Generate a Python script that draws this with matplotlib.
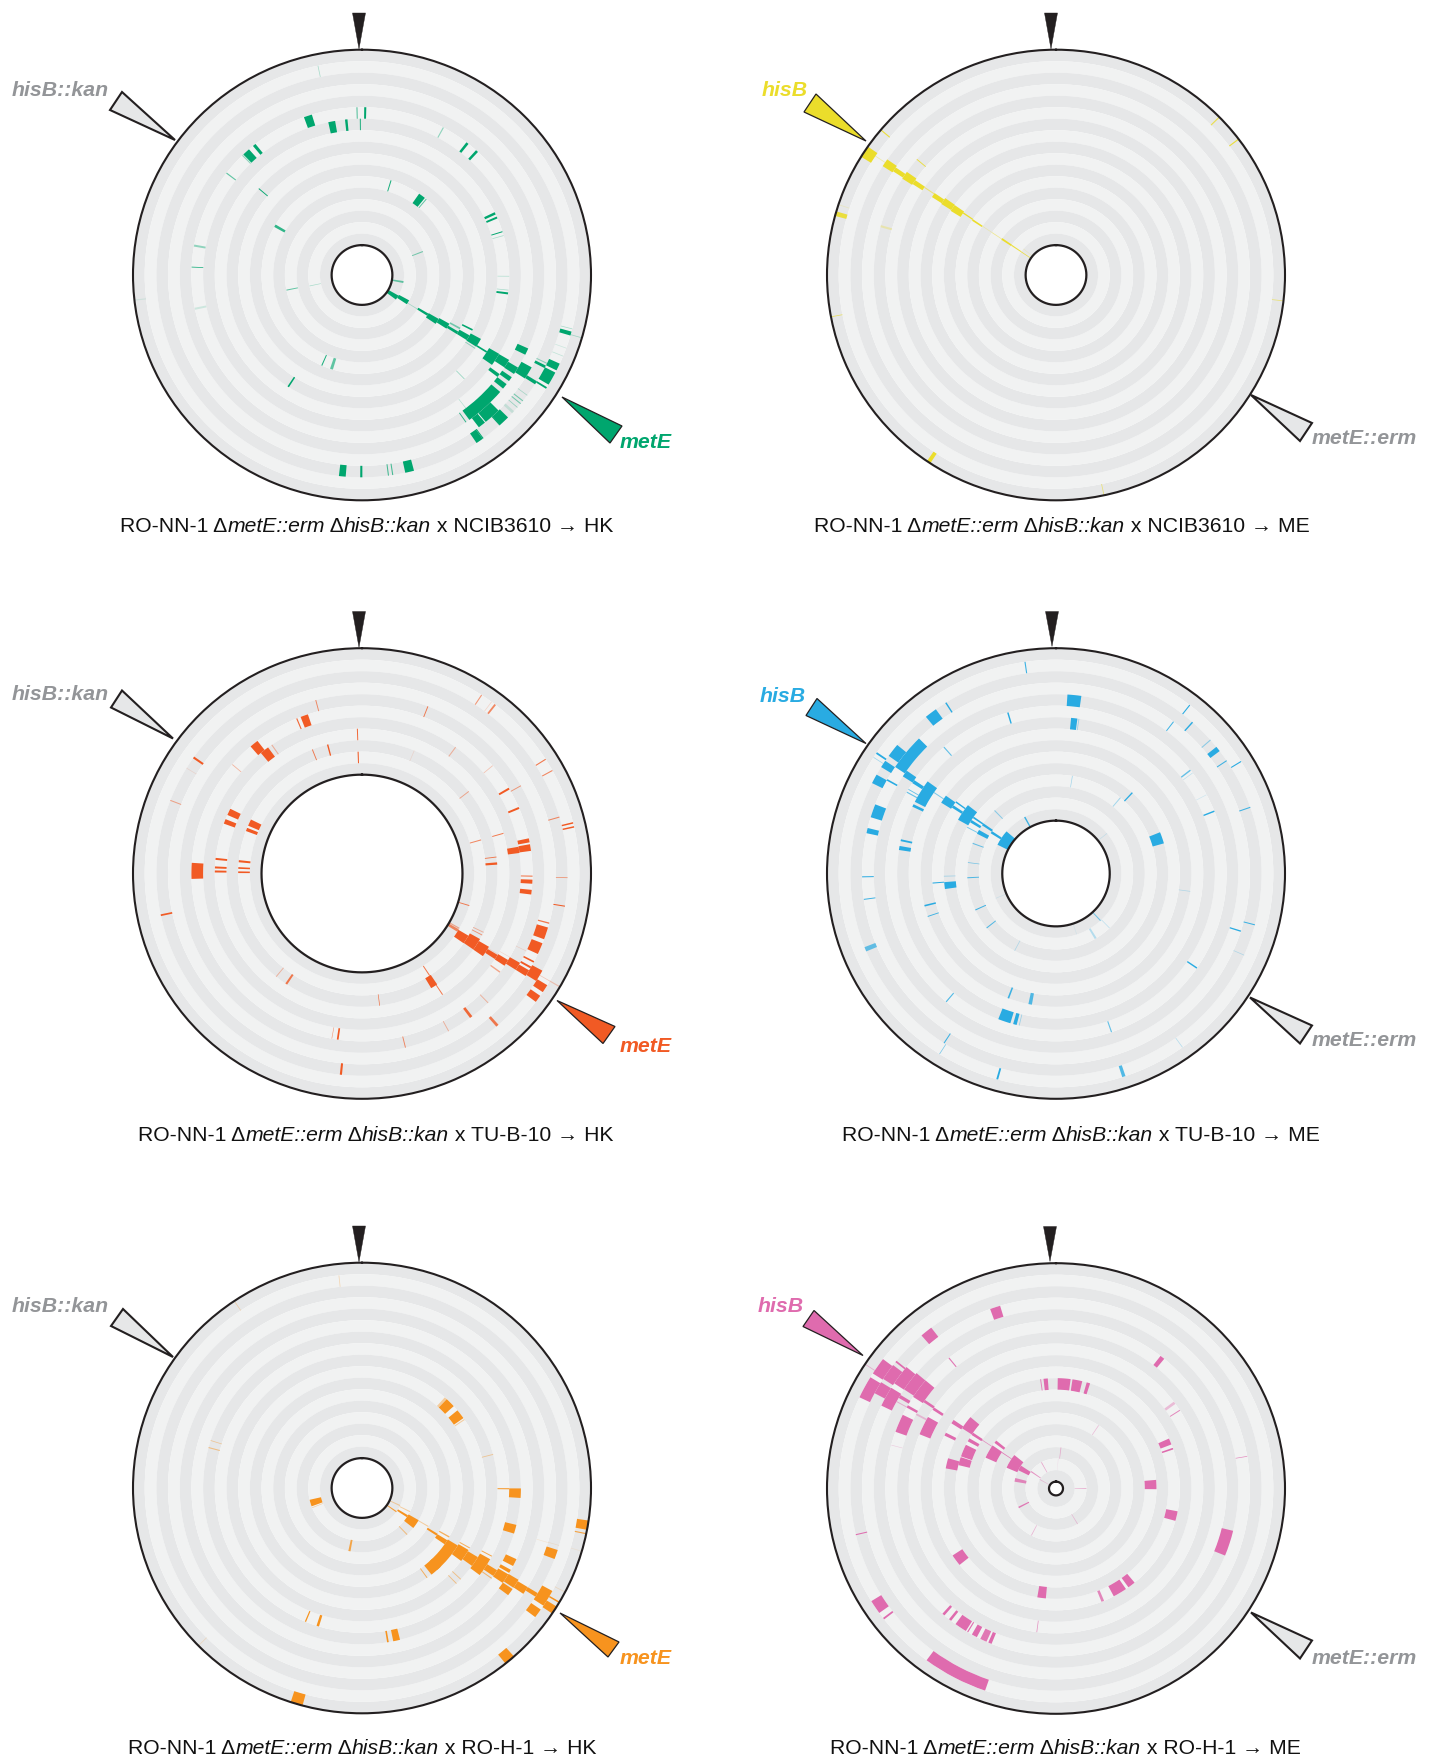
import numpy as np
import matplotlib
matplotlib.use('Agg')
import matplotlib.pyplot as plt
from matplotlib.patches import Polygon
from matplotlib.font_manager import FontProperties

plt.rcParams['font.family'] = ['Liberation Sans', 'DejaVu Sans']

W_PX, H_PX = 1431, 1761
RX_PX, RY_PX = 229.0, 225.3
TRACK_SPAN = 19.6

# Each panel: angle of mark (deg clockwise from top), angular width (deg),
# track (0 = outermost), opacity
A0=[348.3,358.3,1.1,341.5,349.0,354.3,359.4,28.5,38.2,42.4,320.8,317.2,315.5,307.4,310.4,16.8,36.7,39.8,64.8,66.6,72.6,74.2,68.6,299.9,280.1,272.7,263.6,258.4,258.0,258.5,90.5,97.3,96.0,99.8,123.1,121.1,122.0,121.5,122.1,121.2,119.0,121.6,116.8,121.0,120.6,123.4,122.1,122.7,121.9,115.3,122.3,126.8,125.5,128.4,120.9,122.2,117.0,115.9,121.9,119.0,115.5,105.9,104.6,106.2,137.3,137.8,141.8,136.3,137.9,145.1,143.9,145.2,142.5,135.9,129.5,128.5,130.9,126.5,132.7,112.3,110.0,203.6,197.7,213.0,185.5,180.2,172.6,171.4,166.6]
W0=[0.2,0.4,0.7,2.8,2.5,0.9,0.4,0.4,0.9,0.9,1.1,2.6,0.4,0.4,0.4,0.6,4.1,0.6,1.0,0.8,0.4,0.3,1.0,1.6,0.7,0.3,0.3,0.7,0.8,0.8,0.3,0.8,0.3,2.7,6.5,4.9,0.7,1.9,3.8,3.3,0.9,1.5,0.8,2.6,3.9,0.4,0.7,4.8,3.0,2.2,2.4,1.2,1.5,1.8,3.9,1.0,0.8,0.3,0.5,3.7,2.0,1.1,0.2,0.2,13.2,5.1,2.3,3.1,0.3,2.1,0.3,0.3,0.2,0.3,0.3,0.3,0.2,0.2,0.8,0.2,0.2,0.6,1.7,0.7,1.9,0.6,0.3,0.3,2.5]
T0=[1,5,5,5,6,6,6,5,5,5,5,5,5,5,8,11,11,11,7,7,7,7,14,11,5,5,0,5,15,13,7,7,7,16,16,15,14,13,12,11,10,10,9,9,8,8,7,6,5,4,4,5,4,4,3,2,2,2,1,1,1,1,1,0,4,3,3,2,2,2,2,4,5,7,2,2,2,2,2,1,1,11,11,8,2,2,2,2,2]
L0=[0.3,0.6,1.0,1.0,1.0,1.0,0.8,0.4,1.0,1.0,1.0,1.0,0.4,0.6,1.0,0.9,1.0,0.6,1.0,1.0,1.0,0.3,0.5,0.8,0.4,0.8,0.1,0.15,0.3,0.6,0.25,1.0,0.3,0.6,1.0,1.0,0.3,1.0,1.0,1.0,0.5,1.0,1.0,1.0,1.0,0.4,1.0,1.0,1.0,1.0,1.0,1.0,1.0,1.0,1.0,1.0,1.0,0.4,1.0,1.0,1.0,1.0,0.3,0.3,1.0,1.0,1.0,1.0,1.0,1.0,1.0,0.8,0.3,0.4,0.5,0.5,0.4,0.3,0.15,0.2,0.15,0.9,0.6,1.0,1.0,1.0,0.7,0.7,1.0]

A1=[310.1,310.2,45.5,52.9,303.2,303.7,303.6,303.8,303.6,304.1,303.5,303.7,303.4,304.2,303.8,304.0,304.0,304.1,304.2,304.1,303.8,309.2,285.8,288.2,285.8,259.3,96.6,213.8,167.9]
W1=[0.3,0.3,0.3,0.3,3.1,2.3,1.4,2.6,1.6,0.4,1.9,3.0,3.3,0.7,1.0,0.5,0.6,1.7,1.3,1.1,0.2,1.0,1.2,0.2,0.7,0.2,0.2,1.0,0.2]
T1=[0,4,0,0,0,2,3,4,5,6,7,8,9,10,11,12,13,14,15,16,1,16,0,0,4,0,0,0,0]
L1=[0.9,0.9,0.8,0.9,1.0,1.0,1.0,1.0,1.0,0.6,1.0,1.0,1.0,1.0,1.0,0.3,0.5,1.0,0.9,0.9,0.4,0.2,0.9,0.2,0.3,0.7,0.6,1.0,0.6]

A2=[345.3,21.2,33.4,37.8,36.6,337.5,340.2,358.2,320.7,322.1,325.4,338.5,345.3,358.2,22.7,36.1,305.0,301.4,310.5,291.2,57.7,61.2,50.0,59.6,60.7,67.0,52.0,73.8,76.3,77.4,295.2,291.1,294.7,291.2,74.0,73.9,78.6,81.1,81.3,82.9,85.7,270.9,275.8,272.4,270.8,275.8,272.6,270.6,91.2,90.9,92.8,96.4,99.3,106.9,258.1,105.1,108.3,113.2,119.8,121.1,116.2,117.5,122.8,122.1,122.6,122.3,122.2,121.2,117.6,119.5,121.5,120.4,126.0,121.1,119.9,115.6,120.2,120.2,122.6,125.9,219.3,214.0,146.9,147.8,146.8,136.2,172.5,143.2,138.8,151.6,190.2,188.2,166.2,185.9]
W2=[0.3,0.3,0.3,0.5,0.2,0.4,2.6,0.4,3.0,3.3,0.4,0.4,0.6,0.5,0.3,0.4,0.6,0.2,0.3,0.3,0.3,0.3,0.3,0.7,0.3,0.7,0.4,0.3,0.4,0.4,2.7,1.9,3.2,1.6,0.5,0.4,1.4,2.3,2.3,0.4,1.0,5.5,0.8,0.8,0.8,1.0,0.8,0.8,0.2,0.3,1.4,1.6,0.3,0.5,0.5,0.4,3.7,3.5,0.6,1.5,0.4,0.4,4.2,5.3,4.4,1.8,2.3,2.6,0.5,0.6,2.0,3.4,0.5,0.3,0.2,0.2,0.2,0.3,2.2,2.0,0.4,0.9,0.5,3.0,0.4,0.3,0.3,0.9,0.8,0.3,0.2,0.6,0.3,0.6]
T2=[4,4,1,1,1,5,5,7,5,6,6,8,8,9,8,6,2,2,5,2,1,1,5,5,4,5,8,2,1,1,7,7,9,9,9,7,5,5,6,8,8,5,7,7,7,9,9,9,2,5,5,5,2,10,2,3,3,3,10,10,8,8,9,8,7,6,5,4,3,3,3,2,5,6,5,4,1,0,1,1,8,8,9,8,7,4,8,4,2,4,5,5,4,2]
L2=[.7,.8,.6,.7,.2,.9,1,.9,1,1,.4,.8,1,1,.15,.4,1,.15,.4,.5,.8,.7,.3,1,.6,1,.5,.7,1,1,1,1,1,1,.7,.8,1,1,1,.8,1,1,1,1,1,1,1,1,.7,1,1,1,1,.8,1,.8,1,1,.5,.7,.4,.6,1,1,1,1,1,1,1,1,1,1,.5,.15,.2,.2,.3,.3,1,1,.4,.8,.8,1,.8,.4,.8,.9,.8,.4,.6,1,.7,1]

A3=[351.8,5.8,6.6,8.3,327.6,322.5,343.6,38.0,37.3,41.6,318.9,48.7,52.0,56.1,58.4,52.0,53.2,62.0,9.4,42.9,39.9,68.2,70.9,304.3,302.9,307.5,309.5,302.8,297.9,299.4,303.9,303.2,301.7,295.8,300.1,299.0,304.0,303.9,306.0,303.4,303.7,304.6,302.0,304.3,297.9,303.0,298.5,303.7,316.2,331.4,290.2,277.2,267.2,289.2,283.0,282.3,279.4,269.0,262.2,256.0,251.2,265.5,263.7,268.6,245.3,231.4,247.3,71.1,51.4,97.7,137.1,136.0,149.0,161.5,207.8,107.6,104.7,113.8,124.3,248.0,200.6,191.0,220.1,199.0,195.0,193.4,161.0,213.0,212.4,144.4,195.7,161.8]
W3=[0.3,4.4,2.3,0.3,0.4,3.5,0.5,0.3,0.3,0.4,0.4,0.3,1.5,0.3,0.3,0.5,0.2,0.2,0.4,0.7,0.6,0.5,0.3,0.5,0.2,3.9,11.1,2.1,2.7,0.5,2.2,1.2,8.8,1.0,0.3,0.4,0.4,3.6,0.7,1.3,9.1,1.0,1.6,1.6,0.6,1.9,2.8,14.3,0.7,1.3,0.7,0.5,0.7,4.1,1.6,0.7,1.5,0.3,0.3,0.7,0.4,0.5,3.6,0.4,0.7,0.7,0.6,6.1,0.6,0.3,1.0,0.5,1.6,0.6,0.5,0.4,0.3,0.2,0.5,1.3,0.7,1.5,0.4,4.6,1.3,0.3,0.4,0.3,0.2,0.2,0.5,0.9]
T3=[1,4,6,6,2,2,5,1,3,2,5,2,2,2,1,5,5,5,11,10,11,5,2,1,1,2,3,2,2,3,4,5,6,6,5,5,7,8,9,9,10,11,11,12,11,13,12,14,12,14,12,12,12,3,3,6,6,3,3,8,8,9,10,10,12,12,14,10,14,8,14,13,13,14,12,3,2,2,5,2,8,8,5,6,6,6,5,2,1,1,1,1]
L3=[.9,1,1,.4,1,1,1,1,.9,1,.7,.5,1,.9,1,.7,.3,.2,.4,1,.4,1,.9,1,.4,1,1,1,1,1,1,1,1,1,.7,.7,.6,1,1,1,1,1,1,1,.6,1,1,1,.5,.9,.7,.6,.8,1,1,1,1,1,.9,1,.9,1,1,.4,.9,.8,.15,1,.2,.3,.6,.3,.3,.1,.3,1,.9,.3,1,.7,.9,.8,.8,1,1,.4,.7,.9,.6,.3,1,.8]

A4=[353.9,326.1,287.7,285.0,45.5,42.6,52.7,55.8,75.4,90.3,91.9,105.3,99.5,101.7,253.4,248.1,136.4,191.1,115.1,125.0,116.6,122.3,124.2,120.5,122.3,119.7,123.3,129.6,138.6,123.7,119.5,123.5,118.1,123.2,123.0,125.3,116.4,119.8,122.7,122.3,125.5,122.5,121.9,121.1,120.5,122.8,125.9,109.2,139.8,196.6,144.5,135.8,133.2,202.6,197.5,170.6,167.4,225.6,106.6,106.5,117.5,106.3]
W4=[0.2,0.2,0.3,0.4,4.6,1.3,4.6,0.5,0.4,0.4,3.5,3.3,2.4,0.3,7.4,0.8,1.0,1.9,1.6,1.6,1.2,2.4,8.4,0.8,1.4,0.8,2.8,16.4,6.2,6.2,0.5,4.5,0.4,7.5,2.5,0.4,2.6,1.2,3.5,3.0,2.4,2.4,1.2,4.6,0.4,2.1,2.5,2.7,2.8,3.1,0.5,0.4,0.4,0.5,1.0,0.6,2.5,0.2,0.2,0.2,0.2,0.2]
T4=[1,0,6,6,9,9,9,9,8,7,6,6,0,0,15,15,14,14,16,16,15,15,14,13,12,11,11,10,10,9,9,8,7,7,6,6,5,5,5,4,4,3,2,1,0,0,1,2,0,0,10,8,8,7,7,6,6,0,3,2,0,0]
L4=[.3,.3,.4,.5,1,.4,1,.4,.4,1,1,1,1,.8,1,.4,.5,.8,.4,.9,.4,1,1,.4,1,.7,1,1,1,1,.7,1,.8,1,1,.6,1,1,1,1,1,1,1,1,1,1,1,1,1,1,.7,.5,.5,1,1,1,1,.2,.15,.15,.2,.1]

A5=[341.7,320.9,321.1,38.6,354.7,352.1,4.2,11.0,16.8,53.7,57.3,33.6,67.3,70.9,80.3,87.7,103.1,90.0,6.8,331.3,4.2,149.1,207.3,242.7,298.3,304.9,305.2,299.9,306.5,306.8,306.6,298.8,308.9,303.5,292.9,295.8,300.9,299.0,299.3,304.0,303.5,298.4,303.3,296.5,306.7,303.6,299.5,292.6,286.1,283.2,299.3,308.1,303.7,304.1,301.2,299.9,282.1,304.7,299.6,285.0,256.8,233.9,107.8,142.4,148.9,157.8,187.4,236.3,232.5,187.5,221.3,218.4,214.0,211.2,208.6,205.2,202.8,207.8]
W5=[3.1,3.5,0.4,1.6,2.2,0.5,6.6,5.1,1.8,1.1,0.4,0.6,3.0,0.8,0.2,5.4,4.6,1.7,1.1,1.6,0.8,1.1,0.8,2.1,6.1,4.7,4.8,3.6,6.1,6.5,7.0,6.1,0.5,0.2,6.3,7.6,1.1,0.3,0.9,1.0,1.1,0.7,1.9,1.5,7.2,1.6,2.0,7.3,4.8,5.4,10.6,2.2,0.5,0.7,16.1,7.4,5.2,2.3,2.7,0.2,0.3,5.5,8.3,3.6,6.6,1.3,4.4,3.8,0.5,0.3,0.9,0.9,4.2,0.4,1.9,2.3,1.2,17.5]
T5=[3,2,5,5,10,10,10,10,10,7,7,13,9,9,3,11,9,17,16,17,17,16,15,16,1,1,2,2,3,4,5,3,2,0,5,7,4,4,5,6,7,6,9,9,10,11,11,11,11,10,13,13,12,14,15,16,16,17,18,5,2,9,4,9,9,9,10,1,1,7,5,5,5,5,5,5,5,1]
L5=[1,1,.9,1,1,.8,1,1,1,.4,.8,.4,1,1,.8,1,1,.5,.5,.6,.2,.4,.5,.9,1,1,1,1,1,1,1,1,1,.5,1,1,1,.5,1,1,1,.4,1,1,1,1,1,1,1,1,1,1,.7,.9,1,1,.8,.7,.4,.3,1,1,1,1,1,.8,1,1,1,.7,1,1,1,1,1,.9,1,1]

PANEL_DATA = [(A0,W0,T0,L0),(A1,W1,T1,L1),(A2,W2,T2,L2),(A3,W3,T3,L3),(A4,W4,T4,L4),(A5,W5,T5,L5)]
CENTERS = [(362,275),(1056,275),(362,873.5),(1056,873.5),(362,1488),(1056,1488.5)]
N_TRACKS = [17,17,11,15,17,19]
COLORS = ['#00A66E','#EBDD2B','#F15A24','#29ABE2','#F7931E','#DF6BAE']
GRAY_TXT = '#939598'
LINE = '#231F20'
DARK_BAND = '#E6E7E8'
LIGHT_BAND = '#F1F2F2'

STRAINS = ['NCIB3610','NCIB3610','TU-B-10','TU-B-10','RO-H-1','RO-H-1']
RECIP = ['HK','ME','HK','ME','HK','ME']
CAP_X = [120,814,138,842,128,830]
CAP_Y = [532,532,1141,1141,1754,1754]

LABEL_TOP = [('hisB::kan',12,90,False),('hisB',762,91,True),('hisB::kan',12,694,False),
             ('hisB',760,697,True),('hisB::kan',12,1307,False),('hisB',758,1306,True)]
LABEL_BOT = [('metE',620,442,True),('metE::erm',1312,438,False),('metE',620,1046,True),
             ('metE::erm',1312,1041,False),('metE',620,1659,True),('metE::erm',1312,1658,False)]
TRI_TOPMARK = [(-3,-226),(-5,-226),(-3,-226),(-4,-227),(-3,-226),(-6,-227)]
TRI_UL = [[(-187,-135),(-240,-183),(-252,-165)],[(-190,-134),(-240,-181),(-252,-163)],
          [(-189,-135),(-240,-183),(-251,-166)],[(-190,-130),(-239,-175),(-250,-158)],
          [(-189,-131),(-239,-179),(-251,-162)],[(-193,-133),(-242,-178),(-253,-162)]]
TRI_LR = [[(200,122),(260,151),(248,168)],[(195,120),(256,148),(244,166)],
          [(195,127),(253,153),(241,170)],[(194,124),(256,152),(244,170)],
          [(198,125),(257,154),(246,169)],[(195,124),(256,152),(244,170)]]

fig = plt.figure(figsize=(W_PX/100, H_PX/100), dpi=100, facecolor='white')
theta_full = np.linspace(0, 2*np.pi, 721)

for i, (cx, cy) in enumerate(CENTERS):
    ax = fig.add_axes([(cx-RX_PX)/W_PX, 1-(cy+RY_PX)/H_PX,
                       2*RX_PX/W_PX, 2*RY_PX/H_PX], projection='polar')
    ax.set_aspect('auto')
    ax.set_theta_zero_location('N')
    ax.set_theta_direction(-1)
    ax.set_rlim(0, TRACK_SPAN)
    ax.set_xticks([]); ax.set_yticks([])
    ax.grid(False)
    n = N_TRACKS[i]
    for k in range(n):
        ax.bar(0, 1, width=2*np.pi, bottom=TRACK_SPAN-k-1, align='edge',
               color=DARK_BAND if k % 2 == 0 else LIGHT_BAND, linewidth=0, zorder=1)
    ang, wid, trk, alp = PANEL_DATA[i]
    for a, w, t, l in zip(ang, wid, trk, alp):
        t = min(t, n-1)
        ax.bar(np.radians(a), 1, width=np.radians(w), bottom=TRACK_SPAN-t-1, align='center',
               color=COLORS[i], alpha=l, linewidth=0, zorder=2)
    ax.plot(theta_full, np.full_like(theta_full, TRACK_SPAN-n), color=LINE, lw=1.6, zorder=3)
    ax.spines['polar'].set_linewidth(1.5)
    ax.spines['polar'].set_color(LINE)

ov = fig.add_axes([0,0,1,1], facecolor='none', zorder=10)
ov.set_xlim(0, W_PX); ov.set_ylim(H_PX, 0); ov.axis('off')

def tri(c, pts, face, lw):
    ov.add_patch(Polygon([(c[0]+x, c[1]+y) for x, y in pts], closed=True, facecolor=face,
                         edgecolor=LINE, linewidth=lw, joinstyle='miter'))

rend = fig.canvas.get_renderer()
reg = FontProperties(family='Liberation Sans', size=15.25)
ita = FontProperties(family='Liberation Sans', size=15.25, style='italic')

def adv(s, fp):
    w1 = rend.get_text_width_height_descent(s+'.', fp, False)[0]
    w0 = rend.get_text_width_height_descent('.', fp, False)[0]
    return w1-w0

for i, c in enumerate(CENTERS):
    tx, ty = TRI_TOPMARK[i]
    tri(c, [(tx,ty),(tx-6.5,-262),(tx+6.5,-262)], LINE, 0.3)
    gene_ul = i % 2 == 1
    tri(c, TRI_UL[i], COLORS[i] if gene_ul else DARK_BAND, 0.9 if gene_ul else 1.5)
    gene_lr = i % 2 == 0
    tri(c, TRI_LR[i], COLORS[i] if gene_lr else DARK_BAND, 0.9 if gene_lr else 1.5)
    for (s, x, y, col) in (LABEL_TOP[i], LABEL_BOT[i]):
        ov.text(x, y, s, color=COLORS[i] if col else GRAY_TXT, fontsize=15.3, style='italic',
                weight='bold', ha='left', va='center', family='Liberation Sans')
    pieces = [('RO-NN-1 \u0394', reg), ('metE::erm', ita), (' \u0394', reg), ('hisB::kan', ita),
              (f' x {STRAINS[i]} \u2192 {RECIP[i]}', reg)]
    x = CAP_X[i]
    for s, fp in pieces:
        ov.text(x, CAP_Y[i], s, fontproperties=fp, color='#111111', ha='left', va='baseline')
        x += adv(s, fp)

fig.savefig('out.png', dpi=100, facecolor='white')
